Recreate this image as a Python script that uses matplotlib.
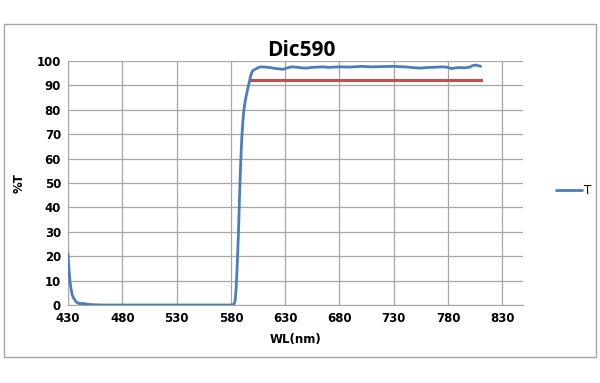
import matplotlib.pyplot as plt
from matplotlib.patches import Rectangle

# transmission curve
wl = [430, 431, 432, 433, 434, 435, 437, 439, 441, 444, 447, 450, 460, 480, 500, 520, 540, 560, 575, 582,
      583, 584, 585, 586, 587, 588, 589, 590, 591, 592, 593, 594, 595, 596, 597, 598, 599, 600, 602,
      604, 606, 608, 612, 616, 620, 624, 628, 632, 636, 640, 645, 650, 655, 660, 665, 670, 680, 690,
      700, 710, 720, 730, 740, 750, 755, 760, 765, 770, 775, 780, 783, 787, 790, 795, 800, 803, 806, 810]
trans = [21, 14, 9, 6, 4, 3, 1.5, 0.8, 0.6, 0.6, 0.4, 0.2, 0, 0, 0, 0, 0, 0, 0, 0,
         0.5, 2, 8, 18, 30, 45, 58, 68, 75, 80, 83, 85.5, 87.5, 89.5, 91.5, 93.5, 95, 96, 96.5,
         97, 97.5, 97.6, 97.5, 97.3, 97, 96.8, 96.6, 97.2, 97.6, 97.5, 97.2, 97.1, 97.4, 97.5, 97.6, 97.4, 97.6, 97.5,
         97.8, 97.6, 97.7, 97.8, 97.6, 97.2, 97.1, 97.3, 97.4, 97.5, 97.6, 97.4, 96.9, 97.2, 97.3, 97.2, 97.5, 98.2, 98.3, 97.8]

# reference level
ref_wl = [598, 810]
ref_t = [92.3, 92.3]

xticks = [430, 480, 530, 580, 630, 680, 730, 780, 830]
yticks = [0, 10, 20, 30, 40, 50, 60, 70, 80, 90, 100]

fig = plt.figure(figsize=(6, 3.83), dpi=100)
fig.patches.append(Rectangle((4 / 600, 1 - 357 / 383), 592 / 600, 333 / 383, transform=fig.transFigure,
                             fill=False, edgecolor="#a6a6a6", linewidth=1))
ax = fig.add_axes([68 / 600, 1 - 305 / 383, 455 / 600, 244 / 383])

ax.plot(wl, trans, color="#4A7EBB", lw=2.0, label="T", solid_capstyle="round", zorder=3)
ax.plot(ref_wl, ref_t, color="#C0504D", lw=2.2, zorder=2)

ax.set_xlim(430, 849)
ax.set_ylim(0, 100)
ax.set_xticks(xticks)
ax.set_yticks(yticks)
ax.tick_params(length=0, labelsize=8.5, pad=5)
for lab in ax.get_xticklabels() + ax.get_yticklabels():
    lab.set_fontweight("bold")
ax.grid(color="#a6a6a6", lw=0.9)
ax.set_axisbelow(True)
for side in ["top", "right"]:
    ax.spines[side].set_visible(False)
for side in ["left", "bottom"]:
    ax.spines[side].set_color("#a6a6a6")

ax.set_xlabel("WL(nm)", fontsize=8.5, fontweight="bold", labelpad=6)
ax.set_ylabel("%T", fontsize=8.5, fontweight="bold", labelpad=8)
fig.text(301 / 600, 1 - 51 / 383, "Dic590", ha="center", va="center", fontsize=15,
         fontweight="bold", family="Open Sans")

ax.legend(loc="center left", bbox_to_anchor=(1.05, 0.47), frameon=False, fontsize=8.5,
          handlelength=2.2, handletextpad=0.1)

fig.savefig("out.png", dpi=100)
